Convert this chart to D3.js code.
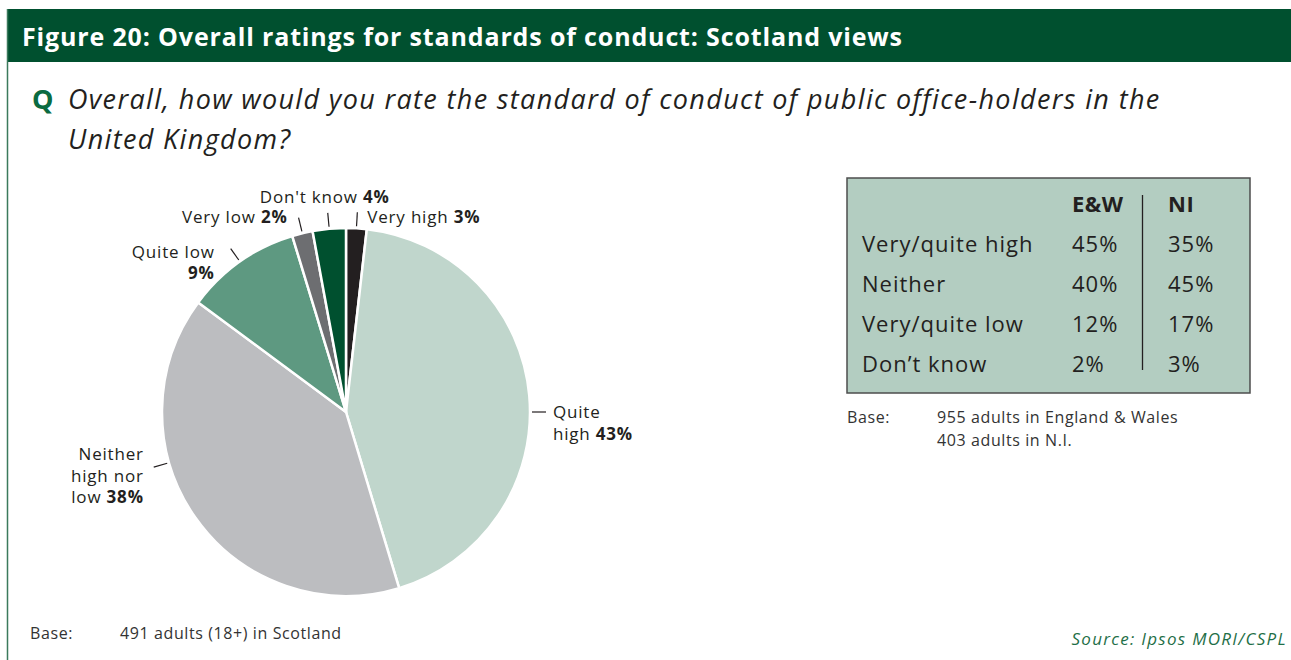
<!DOCTYPE html>
<html>
<head>
<meta charset="utf-8">
<script src="https://cdn.jsdelivr.net/npm/d3@7"></script>
<style>
  body { margin: 0; background: #fff; }
  text { font-family: "Open Sans", "Noto Sans", sans-serif; fill: #231f20; }
</style>
</head>
<body>
<div id="chart"></div>
<script>
// pie data (slice sizes, labels as printed)
var categories = ["Very high", "Quite high", "Neither high nor low", "Quite low", "Very low", "Don't know"];
var sliceValues = [1.8, 43.4, 39.7, 10.1, 1.8, 2.9];
var labelPct = ["3%", "43%", "38%", "9%", "2%", "4%"];
var labelLines = [["Very high"], ["Quite", "high"], ["Neither", "high nor", "low"], ["Quite low", ""], ["Very low"], ["Don't know"]];

// side table
var tableCols = ["E&W", "NI"];
var tableRows = ["Very/quite high", "Neither", "Very/quite low", "Don\u2019t know"];
var ewValues = ["45%", "40%", "12%", "2%"];
var niValues = ["35%", "45%", "17%", "3%"];

var sliceColors = ["#231f20", "#c0d6cc", "#bcbdc0", "#5e9981", "#6d6e71", "#00502f"];
var green = "#00502f";

var W = 1291, H = 660;
var svg = d3.select("#chart").append("svg")
    .attr("width", W)
    .attr("height", H);

// frame: header bar + left rule
svg.append("rect")
    .attr("x", 7).attr("y", 9)
    .attr("width", W - 7).attr("height", 53)
    .attr("fill", green);
svg.append("line")
    .attr("x1", 7.5).attr("x2", 7.5)
    .attr("y1", 9).attr("y2", H)
    .attr("stroke", "#3b7a5c").attr("stroke-width", 1.5);

svg.append("text")
    .attr("x", 22).attr("y", 46)
    .style("font-size", "25px").style("font-weight", "bold")
    .style("letter-spacing", "0.85px")
    .style("fill", "#fff")
    .text("Figure 20: Overall ratings for standards of conduct: Scotland views");

// question
svg.append("text")
    .attr("x", 32).attr("y", 109)
    .style("font-size", "27px").style("font-weight", "bold")
    .style("fill", "#0b6b41")
    .text("Q");
var q = svg.append("text")
    .style("font-size", "27px").style("font-style", "italic")
    .style("letter-spacing", "1.35px");
q.append("tspan").attr("x", 68).attr("y", 109)
    .text("Overall, how would you rate the standard of conduct of public office-holders in the");
q.append("tspan").attr("x", 68).attr("y", 149)
    .text("United Kingdom?");

// pie
var cx = 346, cy = 412, r = 184;
var g = svg.append("g").attr("transform", "translate(" + cx + "," + cy + ")");

var pie = d3.pie().sort(null).value(function (d) { return d; });
var arcs = pie(sliceValues);
var arc = d3.arc().innerRadius(0).outerRadius(r);

g.selectAll("path")
    .data(arcs)
    .enter()
    .append("path")
    .attr("d", arc)
    .attr("fill", function (d, i) { return sliceColors[i]; })
    .attr("stroke", "#fff")
    .attr("stroke-width", 2.5)
    .attr("stroke-linejoin", "round");

// label placement: leader angle override (deg) and text offset from leader end
var labelLayout = [
    { anchor: "start", dx: 10, dy: 11 },
    { angle: 90, anchor: "start", dx: 7, dy: 6 },
    { angle: -106, anchor: "end", dx: -10, dy: -7 },
    { anchor: "end", dx: -16, dy: 9 },
    { anchor: "end", dx: -11, dy: 5 },
    { anchor: "middle", dx: -3, dy: -10 }
];
var lineH = 21.5;

arcs.forEach(function (d, i) {
    var L = labelLayout[i];
    var a = L.angle !== undefined ? L.angle * Math.PI / 180 : (d.startAngle + d.endAngle) / 2;
    var r0 = r + 2, r1 = r + 16;
    var x0 = r0 * Math.sin(a), y0 = -r0 * Math.cos(a);
    var x1 = r1 * Math.sin(a), y1 = -r1 * Math.cos(a);
    g.append("line")
        .attr("x1", x0).attr("y1", y0)
        .attr("x2", x1).attr("y2", y1)
        .attr("stroke", "#231f20").attr("stroke-width", 1.2);

    var t = g.append("text")
        .attr("text-anchor", L.anchor)
        .style("font-size", "17px")
        .style("letter-spacing", "0.8px");
    var lines = labelLines[i];
    lines.forEach(function (ln, k) {
        var ts = t.append("tspan")
            .attr("x", x1 + L.dx)
            .attr("y", y1 + L.dy + k * lineH);
        if (k == lines.length - 1) {
            ts.text(ln == "" ? "" : ln + " ");
            ts.append("tspan").style("font-weight", "bold").text(labelPct[i]);
        } else {
            ts.text(ln);
        }
    });
});

// table box
var tb = { x: 847, y: 178, w: 403, h: 215 };
svg.append("rect")
    .attr("x", tb.x).attr("y", tb.y)
    .attr("width", tb.w).attr("height", tb.h)
    .attr("fill", "#b3cdc1")
    .attr("stroke", "#4d4d4d").attr("stroke-width", 1.5);

var colX = d3.scalePoint().domain(tableCols).range([1072, 1168]);
var rowY = d3.scalePoint().domain(["head"].concat(tableRows)).range([212, 372]);

svg.selectAll(".th")
    .data(tableCols)
    .enter()
    .append("text")
    .attr("class", "th")
    .attr("x", function (d) { return colX(d); })
    .attr("y", rowY("head"))
    .style("font-size", "22px").style("font-weight", "bold")
    .style("letter-spacing", "0.5px")
    .text(function (d) { return d; });

svg.append("line")
    .attr("x1", 1142.5).attr("x2", 1142.5)
    .attr("y1", 195).attr("y2", 370)
    .attr("stroke", "#231f20").attr("stroke-width", 1.3);

function cell(x, y, s) {
    svg.append("text")
        .attr("x", x).attr("y", y)
        .style("font-size", "22px")
        .style("letter-spacing", "1px")
        .text(s);
}
tableRows.forEach(function (row, i) {
    cell(862, rowY(row), row);
    cell(colX("E&W"), rowY(row), ewValues[i]);
    cell(colX("NI"), rowY(row), niValues[i]);
});

// base notes
function note(x, y, s) {
    svg.append("text")
        .attr("x", x).attr("y", y)
        .style("font-size", "16px").style("fill", "#333")
        .style("letter-spacing", "0.6px")
        .text(s);
}
note(847, 423, "Base:");
note(937, 423, "955 adults in England & Wales");
note(937, 446, "403 adults in N.I.");
note(30, 639, "Base:");
note(120, 639, "491 adults (18+) in Scotland");

svg.append("text")
    .attr("x", 1287).attr("y", 645)
    .attr("text-anchor", "end")
    .style("font-size", "17px").style("font-style", "italic")
    .style("letter-spacing", "1.3px")
    .style("fill", "#1f6f48")
    .text("Source: Ipsos MORI/CSPL");
</script>
</body>
</html>
